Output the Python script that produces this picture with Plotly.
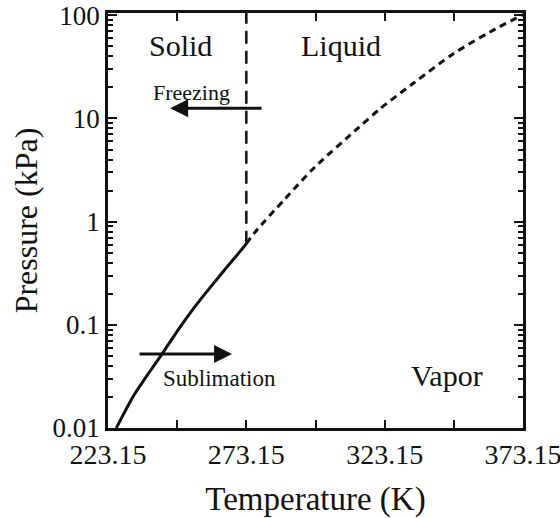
import math
import plotly.graph_objects as go

# Sublimation curve (solid–vapor), temperature in K, pressure in kPa
sub_T = [226.15, 232.19, 238.22, 242.42, 248.45, 254.49, 259.30, 265.71, 272.40, 273.15]
sub_P = [0.0100, 0.0201, 0.0351, 0.0509, 0.0889, 0.149, 0.217, 0.351, 0.575, 0.611]

# Vaporization curve (liquid–vapor)
vap_T = [273.15, 276.28, 287.13, 297.97, 313.62, 321.47, 333.50, 347.96, 361.22, 373.15]
vap_P = [0.611, 0.79, 1.66, 3.39, 8.1, 12.4, 21.9, 42.3, 68.9, 101.3]

# Melting line (solid–liquid), vertical at the freezing point
melt_T = [273.15, 273.15]
melt_P = [0.611, 106.0]

x_ticks = [223.15, 248.15, 273.15, 298.15, 323.15, 348.15, 373.15]
x_labels = ["223.15", "", "273.15", "", "323.15", "", "373.15"]
y_ticks = [0.01, 0.1, 1, 10, 100]
y_labels = ["0.01", "0.1", "1", "10", "100"]
y_minor = [m * d for d in (0.01, 0.1, 1, 10) for m in range(2, 10)]

FONT = "Times New Roman, Liberation Serif, serif"
INK = "#111"

fig = go.Figure()
fig.add_trace(go.Scatter(x=sub_T, y=sub_P, mode="lines",
                         line=dict(color=INK, width=3, shape="spline", smoothing=0.6),
                         hoverinfo="skip", showlegend=False))
fig.add_trace(go.Scatter(x=vap_T, y=vap_P, mode="lines",
                         line=dict(color=INK, width=3, dash="7px,5px",
                                   shape="spline", smoothing=0.8),
                         hoverinfo="skip", showlegend=False))
fig.add_trace(go.Scatter(x=melt_T, y=melt_P, mode="lines",
                         line=dict(color=INK, width=2.5, dash="13px,7px"),
                         hoverinfo="skip", showlegend=False))

# Phase labels (x in K, y in kPa)
phase_labels = [("Solid", 249.2, 10 ** 1.71),
                ("Liquid", 307.4, 10 ** 1.71),
                ("Vapor", 345.7, 10 ** -1.487)]
for text, tx, py in phase_labels:
    fig.add_annotation(x=tx, y=math.log10(py), xref="x", yref="y", text=text,
                       showarrow=False, font=dict(family=FONT, size=30, color=INK))

# Process labels with arrows
fig.add_annotation(x=245.6, y=1.099, ax=279.2, ay=1.099, xref="x", yref="y",
                   axref="x", ayref="y", text="", showarrow=True,
                   arrowhead=2, arrowsize=1.2, arrowwidth=3, arrowcolor=INK)
fig.add_annotation(x=253.5, y=1.254, xref="x", yref="y", text="Freezing",
                   showarrow=False, font=dict(family=FONT, size=22, color=INK))
fig.add_annotation(x=268.0, y=-1.283, ax=234.0, ay=-1.283, xref="x", yref="y",
                   axref="x", ayref="y", text="", showarrow=True,
                   arrowhead=2, arrowsize=1.2, arrowwidth=3, arrowcolor=INK)
fig.add_annotation(x=263.4, y=-1.516, xref="x", yref="y", text="Sublimation",
                   showarrow=False, font=dict(family=FONT, size=23, color=INK))

fig.update_layout(
    width=560, height=518,
    margin=dict(l=108, r=37, t=13, b=90),
    paper_bgcolor="white", plot_bgcolor="white",
    font=dict(family=FONT, color=INK),
    xaxis=dict(range=[223.15, 373.15], tickmode="array", tickvals=x_ticks,
               ticktext=x_labels, ticks="inside", ticklen=8, tickwidth=2,
               tickcolor=INK, showgrid=False, zeroline=False, automargin=False,
               showline=True, linecolor=INK, linewidth=2.5, mirror="ticks",
               ticklabeloverflow="allow",
               tickfont=dict(family=FONT, size=28),
               title=dict(text="Temperature (K)", font=dict(family=FONT, size=33),
                          standoff=23)),
    yaxis=dict(type="log", range=[-2, 2.022], tickmode="array", tickvals=y_ticks,
               ticktext=y_labels, ticks="inside", ticklen=9, tickwidth=2,
               tickcolor=INK, showgrid=False, zeroline=False, automargin=False,
               showline=True, linecolor=INK, linewidth=2.5, mirror="ticks",
               minor=dict(tickmode="array", tickvals=y_minor, ticks="inside",
                          ticklen=5, tickwidth=1.5, tickcolor=INK, showgrid=False),
               tickfont=dict(family=FONT, size=27),
               title=dict(text="Pressure (kPa)", font=dict(family=FONT, size=32),
                          standoff=6)),
)

fig.write_html("out.html")
